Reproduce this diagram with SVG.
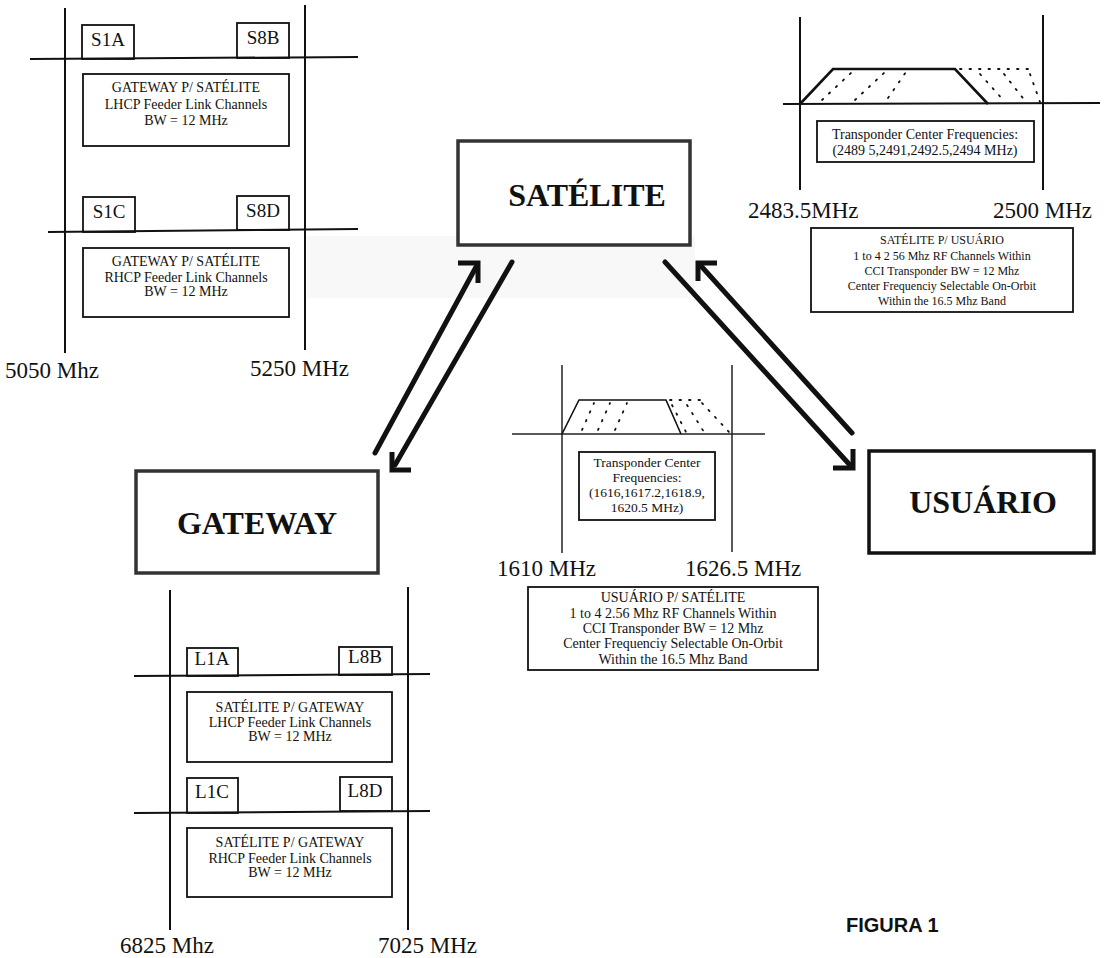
<svg xmlns="http://www.w3.org/2000/svg" width="1104" height="958" viewBox="0 0 1104 958">
<style>
.bg{fill:#ffffff}
.band{fill:#f8f8f8}
.ax{stroke:#111;stroke-width:2;fill:none}
.axt{stroke:#222;stroke-width:1.5;fill:none}
.box{stroke:#111;stroke-width:1.8;fill:none}
.trap{stroke:#111;stroke-width:2.6;fill:none;stroke-linejoin:miter}
.trapm{stroke:#111;stroke-width:1.6;fill:none}
.dot{stroke:#111;stroke-width:1.8;fill:none;stroke-dasharray:1.5 8;stroke-linecap:round}
.node{fill:#fff;stroke:#333;stroke-width:3.5}
.nodeb{fill:#fff;stroke:#111;stroke-width:3.5}
.t{font-family:"Liberation Serif","Times New Roman",serif;fill:#111;text-anchor:middle}
.s14{font-size:14px}
.s12{font-size:12px}
.s135{font-size:13.5px}
.ch{font-family:"Liberation Serif","Times New Roman",serif;font-size:19px;fill:#111;text-anchor:middle}
.fq{font-family:"Liberation Serif","Times New Roman",serif;font-size:23px;fill:#111}
.title{font-family:"Liberation Serif","Times New Roman",serif;font-weight:bold;font-size:32px;fill:#111;text-anchor:middle}
.fig{font-family:"Liberation Sans",Arial,sans-serif;font-weight:bold;font-size:20px;fill:#111}
.arr{stroke:#111;stroke-width:5;fill:none;stroke-linecap:round}
.head{stroke:#111;stroke-width:5;fill:none;stroke-linejoin:miter;stroke-linecap:butt}
</style>
<rect class="bg" x="0" y="0" width="1104" height="958"/>
<rect class="band" x="307" y="236" width="388" height="62"/>

<g id="panel-gateway-to-satellite">
  <line class="ax" x1="65" y1="8" x2="65" y2="353"/>
  <line class="ax" x1="305" y1="5" x2="305" y2="350"/>
  <line class="ax" x1="30" y1="59" x2="358" y2="57"/>
  <rect class="box" x="82" y="25" width="52" height="34"/>
  <text class="ch" x="108" y="46">S1A</text>
  <rect class="box" x="237" y="23" width="52" height="35"/>
  <text class="ch" x="263" y="44">S8B</text>
  <rect class="box" x="83" y="74" width="206" height="72"/>
  <text class="t s14" x="186" y="92">GATEWAY P/ SATÉLITE</text>
  <text class="t s14" x="186" y="109">LHCP Feeder Link Channels</text>
  <text class="t s14" x="186" y="125">BW = 12 MHz</text>
  <line class="ax" x1="48" y1="232" x2="358" y2="229"/>
  <rect class="box" x="83" y="197" width="52" height="35"/>
  <text class="ch" x="109" y="218">S1C</text>
  <rect class="box" x="237" y="196" width="52" height="34"/>
  <text class="ch" x="263" y="217">S8D</text>
  <rect class="box" x="83" y="248" width="206" height="69"/>
  <text class="t s14" x="186" y="266">GATEWAY P/ SATÉLITE</text>
  <text class="t s14" x="186" y="282">RHCP Feeder Link Channels</text>
  <text class="t s14" x="186" y="296">BW = 12 MHz</text>
  <text class="fq" x="5" y="378">5050 Mhz</text>
  <text class="fq" x="250" y="376">5250 MHz</text>
</g>

<g id="panel-satellite-to-user">
  <line class="ax" x1="800" y1="17" x2="800" y2="190"/>
  <line class="ax" x1="1043" y1="15" x2="1043" y2="190"/>
  <line class="ax" x1="783" y1="104" x2="1100" y2="103"/>
  <polyline class="trap" points="800,104 833,69 955,69 988,104"/>
  <line class="dot" x1="822" y1="100" x2="852" y2="72"/>
  <line class="dot" x1="855" y1="100" x2="885" y2="72"/>
  <line class="dot" x1="888" y1="98" x2="906" y2="72"/>
  <line class="dot" x1="960" y1="69" x2="1030" y2="69"/>
  <line class="dot" x1="980" y1="74" x2="1005" y2="102"/>
  <line class="dot" x1="1004" y1="74" x2="1026" y2="102"/>
  <line class="dot" x1="1030" y1="74" x2="1040" y2="102"/>
  <rect class="box" x="817" y="121" width="217" height="41"/>
  <text class="t s14" x="925" y="139">Transponder Center Frequencies:</text>
  <text class="t s14" x="925" y="155">(2489 5,2491,2492.5,2494 MHz)</text>
  <text class="fq" x="748" y="218">2483.5MHz</text>
  <text class="fq" x="993" y="218">2500 MHz</text>
  <rect class="box" x="811" y="228" width="262" height="84"/>
  <text class="t s12" x="942" y="244">SATÉLITE P/ USUÁRIO</text>
  <text class="t s12" x="942" y="260">1 to 4 2 56 Mhz RF Channels Within</text>
  <text class="t s12" x="942" y="275">CCI Transponder BW = 12 Mhz</text>
  <text class="t s12" x="942" y="290">Center Frequenciy Selectable On-Orbit</text>
  <text class="t s12" x="942" y="305">Within the 16.5 Mhz Band</text>
</g>

<g id="panel-user-to-satellite">
  <line class="axt" x1="562" y1="365" x2="562" y2="553"/>
  <line class="axt" x1="732" y1="365" x2="732" y2="552"/>
  <line class="axt" x1="512" y1="434" x2="765" y2="434"/>
  <polyline class="trapm" points="562,434 579,400 666,400 681,434"/>
  <line class="dot" x1="582" y1="430" x2="594" y2="403"/>
  <line class="dot" x1="598" y1="430" x2="610" y2="403"/>
  <line class="dot" x1="615" y1="430" x2="627" y2="403"/>
  <line class="dot" x1="670" y1="400" x2="700" y2="400"/>
  <line class="dot" x1="672" y1="405" x2="686" y2="432"/>
  <line class="dot" x1="687" y1="405" x2="704" y2="432"/>
  <line class="dot" x1="702" y1="403" x2="729" y2="432"/>
  <rect class="box" x="579" y="452" width="136" height="68"/>
  <text class="t s135" x="647" y="467">Transponder Center</text>
  <text class="t s135" x="647" y="482">Frequencies:</text>
  <text class="t s135" x="647" y="497">(1616,1617.2,1618.9,</text>
  <text class="t s135" x="647" y="512">1620.5 MHz)</text>
  <text class="fq" x="497" y="576">1610 MHz</text>
  <text class="fq" x="685" y="576">1626.5 MHz</text>
  <rect class="box" x="528" y="587" width="290" height="83"/>
  <text class="t s14" x="673" y="602">USUÁRIO P/ SATÉLITE</text>
  <text class="t s14" x="673" y="618">1 to 4 2.56 Mhz RF Channels Within</text>
  <text class="t s14" x="673" y="633">CCI Transponder BW = 12 Mhz</text>
  <text class="t s14" x="673" y="648">Center Frequenciy Selectable On-Orbit</text>
  <text class="t s14" x="673" y="664">Within the 16.5 Mhz Band</text>
</g>

<g id="panel-satellite-to-gateway">
  <line class="ax" x1="170" y1="590" x2="170" y2="930"/>
  <line class="ax" x1="408" y1="587" x2="408" y2="930"/>
  <line class="ax" x1="134" y1="676" x2="430" y2="674"/>
  <rect class="box" x="187" y="648" width="51" height="28"/>
  <text class="ch" x="212" y="665">L1A</text>
  <rect class="box" x="339" y="647" width="53" height="28"/>
  <text class="ch" x="365" y="663">L8B</text>
  <rect class="box" x="187" y="692" width="205" height="70"/>
  <text class="t s14" x="290" y="712">SATÉLITE P/ GATEWAY</text>
  <text class="t s14" x="290" y="727">LHCP Feeder Link Channels</text>
  <text class="t s14" x="290" y="741">BW = 12 MHz</text>
  <line class="ax" x1="134" y1="813" x2="430" y2="811"/>
  <rect class="box" x="187" y="778" width="51" height="35"/>
  <text class="ch" x="212" y="798">L1C</text>
  <rect class="box" x="340" y="777" width="52" height="34"/>
  <text class="ch" x="365" y="797">L8D</text>
  <rect class="box" x="187" y="828" width="205" height="69"/>
  <text class="t s14" x="290" y="847">SATÉLITE P/ GATEWAY</text>
  <text class="t s14" x="290" y="863">RHCP Feeder Link Channels</text>
  <text class="t s14" x="290" y="877">BW = 12 MHz</text>
  <text class="fq" x="120" y="953">6825 Mhz</text>
  <text class="fq" x="378" y="953">7025 MHz</text>
</g>

<g id="node-satelite">
  <rect class="node" x="458" y="141" width="232" height="104"/>
  <text class="title" x="587" y="206">SATÉLITE</text>
</g>

<g id="node-gateway">
  <rect class="node" x="136" y="471" width="242" height="102"/>
  <text class="title" x="257" y="534">GATEWAY</text>
</g>

<g id="node-usuario">
  <rect class="nodeb" x="869" y="451" width="225" height="102"/>
  <text class="title" x="983" y="513">USUÁRIO</text>
</g>

<g id="connectors">
  <line class="arr" x1="375" y1="453" x2="476" y2="267"/>
  <polyline class="head" points="458,263 478,263 478,283"/>
  <line class="arr" x1="512" y1="262" x2="395" y2="465"/>
  <polyline class="head" points="392,452 392,470 411,470"/>
  <line class="arr" x1="852" y1="433" x2="702" y2="267"/>
  <polyline class="head" points="717,263 698,263 698,281"/>
  <line class="arr" x1="665" y1="262" x2="849" y2="464"/>
  <polyline class="head" points="833,468 853,468 853,449"/>
</g>

<text class="fig" x="846" y="932">FIGURA 1</text>
</svg>
